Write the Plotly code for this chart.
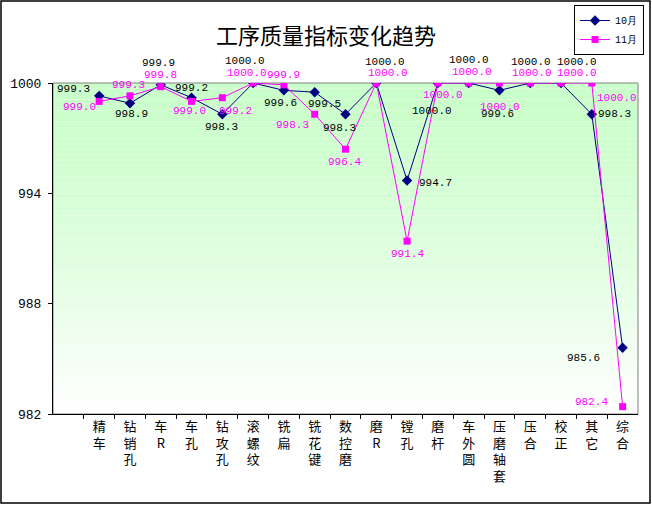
import plotly.graph_objects as go

# ---------------- Data ----------------
categories = ["精车", "钻销孔", "车R", "车孔", "钻攻孔", "滚螺纹", "铣扁", "铣花键", "数控磨",
              "磨R", "镗孔", "磨杆", "车外圆", "压磨轴套", "压合", "校正", "其它", "综合"]
oct_vals = [999.3, 998.9, 999.9, 999.2, 998.3, 1000.0, 999.6, 999.5, 998.3,
            1000.0, 994.7, 1000.0, 1000.0, 999.6, 1000.0, 1000.0, 998.3, 985.6]
nov_vals = [999.0, 999.3, 999.8, 999.0, 999.2, 1000.0, 999.9, 998.3, 996.4,
            1000.0, 991.4, 1000.0, 1000.0, 1000.0, 1000.0, 1000.0, 1000.0, 982.4]
y_ticks = [982, 988, 994, 1000]

# label offsets in px (dx, dy), as placed in the original chart
oct_offsets = [(-26, 7), (2, -11), (-2, 22), (0, 10), (-1, -13), (-8, 22), (-3, -13), (10, -12), (-6, -14),
               (9, 21), (28, -3), (-6, -28), (0, 23), (-2, -24), (1, 21), (16, 21), (23, 0), (-39, -10)]
nov_offsets = [(-20, -6), (-1, 11), (0, 12), (-2, -10), (13, -13), (-6, 10), (0, 10), (-22, -11), (-1, -13),
               (12, 10), (0, -13), (5, -12), (3, 11), (1, -24), (2, 10), (16, 10), (25, -15), (-31, 5)]

x_pos = list(range(1, len(categories) + 1))
num_font = "Liberation Mono"
cjk_font = "Noto Sans CJK SC"

fig = go.Figure()

fig.add_trace(go.Scatter(
    x=x_pos, y=oct_vals, name="10月", mode="lines+markers",
    line=dict(color="#000080", width=1),
    marker=dict(symbol="diamond", size=8, color="#000080"),
))
fig.add_trace(go.Scatter(
    x=x_pos, y=nov_vals, name="11月", mode="lines+markers",
    line=dict(color="#FF00FF", width=1),
    marker=dict(symbol="square", size=7, color="#FF00FF"),
))

# ---------------- Data labels ----------------
annotations = []
for vals, offs, col in [(oct_vals, oct_offsets, "#000000"), (nov_vals, nov_offsets, "#FF00FF")]:
    for xi, v, (dx, dy) in zip(x_pos, vals, offs):
        annotations.append(dict(
            x=xi, y=v, text=f"{v:.1f}", showarrow=False,
            xshift=dx, yshift=dy, font=dict(family=num_font, size=11, color=col),
        ))

# ---------------- Background gradient (green -> white) ----------------
shapes = []
n_bands = 60
top = (202, 254, 202)
for i in range(n_bands):
    t = (i / (n_bands - 1)) ** 1.3
    c = tuple(int(top[k] + (255 - top[k]) * t) for k in range(3))
    shapes.append(dict(
        type="rect", xref="paper", yref="paper",
        x0=0, x1=1, y0=1 - (i + 1) / n_bands, y1=1 - i / n_bands,
        fillcolor=f"rgb{c}", line=dict(width=0), layer="below",
    ))
# plot-area border (gray) and outer frame (black)
shapes.append(dict(type="rect", xref="paper", yref="paper", x0=0, x1=1, y0=0, y1=1,
                   line=dict(color="#808080", width=1), layer="below"))
shapes.append(dict(type="rect", xref="paper", yref="paper", x0=-0.0889, x1=1.0205, y0=-0.269, y1=1.2477,
                   line=dict(color="#000000", width=1.5)))

fig.update_layout(
    width=652, height=506,
    margin=dict(l=53, r=14, t=83, b=92, autoexpand=False),
    paper_bgcolor="white", plot_bgcolor="rgba(0,0,0,0)",
    title=dict(text="工序质量指标变化趋势", x=0.5, xref="container", xanchor="center",
               y=1 - 36 / 506, yanchor="middle", font=dict(family=cjk_font, size=22, color="black")),
    font=dict(family=cjk_font, size=12, color="black"),
    showlegend=True,
    legend=dict(x=1.0103, xanchor="right", y=1.2356, yanchor="top",
                bordercolor="black", borderwidth=1, bgcolor="white",
                font=dict(family=num_font, size=10), tracegroupgap=0, itemwidth=30,
                itemclick=False),
    xaxis=dict(
        range=[-0.5, len(categories) + 0.5], tickvals=x_pos,
        ticktext=["<br>".join(list(c)) for c in categories],
        ticks="", showgrid=False, zeroline=False,
        showline=True, linecolor="black", linewidth=1,
        tickfont=dict(family=cjk_font, size=13),
        minor=dict(tickvals=[i + 0.5 for i in range(len(categories))], ticks="outside",
                   ticklen=4, tickcolor="black", showgrid=False),
    ),
    yaxis=dict(
        range=[982, 1000], tickvals=y_ticks, ticks="outside", ticklen=4, tickcolor="black",
        showgrid=False, zeroline=False, showline=True, linecolor="black", linewidth=1,
        tickfont=dict(family=num_font, size=13), ticklabelstandoff=4,
    ),
    shapes=shapes,
    annotations=annotations,
)

# drop the page's default body margin so the chart fills the window exactly
fig.write_html("out.html", config={"displayModeBar": False},
               post_script="document.body.style.margin='0';")
